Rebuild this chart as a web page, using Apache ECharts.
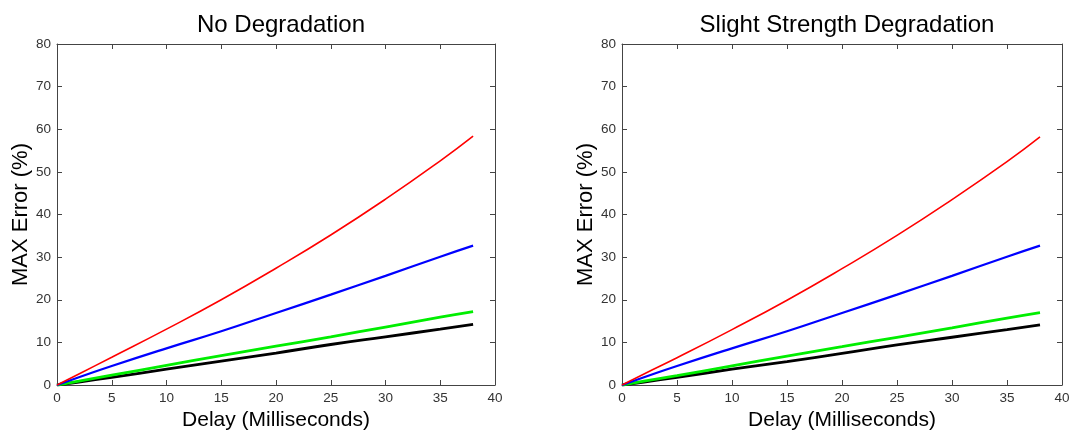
<!DOCTYPE html>
<html><head><meta charset="utf-8">
<script src="https://cdn.jsdelivr.net/npm/echarts@6/dist/echarts.min.js"></script>
<style>html,body{margin:0;padding:0;background:#fff}#c{width:1070px;height:432px}</style>
</head><body><div id="c"></div>
<script>
const titles = ["No Degradation", "Slight Strength Degradation"];
const delays = [0, 2, 5, 10, 15, 20, 25, 30, 35, 38];
const redA   = [0, 2.6, 6.5, 13.1, 20.0, 27.4, 35.2, 43.6, 52.6, 58.4];
const blueA  = [0, 1.8, 4.45, 8.6, 12.6, 16.9, 21.2, 25.6, 30.1, 32.7];
const greenA = [0, 0.9, 2.3, 4.6, 6.9, 9.1, 11.3, 13.6, 15.9, 17.2];
const blackA = [0, 0.7, 1.8, 3.7, 5.6, 7.5, 9.5, 11.3, 13.1, 14.2];
const redB   = [0, 2.6, 6.4, 13.0, 19.9, 27.3, 35.1, 43.5, 52.4, 58.2];
const blueB  = [0, 1.8, 4.45, 8.6, 12.6, 16.9, 21.2, 25.6, 30.1, 32.7];
const greenB = [0, 0.9, 2.2, 4.5, 6.8, 9.0, 11.2, 13.4, 15.7, 17.0];
const blackB = [0, 0.7, 1.8, 3.7, 5.5, 7.4, 9.4, 11.2, 13.0, 14.1];
const xTicks = [0, 5, 10, 15, 20, 25, 30, 35, 40];
const yTicks = [0, 10, 20, 30, 40, 50, 60, 70, 80];

const chart = echarts.init(document.getElementById('c'));
const grids = [
  {left: 57, right: 575, top: 44, bottom: 47, outerBoundsMode: 'none', containLabel: false},
  {left: 622, right: 8, top: 44, bottom: 47, outerBoundsMode: 'none', containLabel: false}
];
const axisCol = '#444';
const font = 'Liberation Sans, Arial, sans-serif';
const xAxes = [], yAxes = [], series = [];
const sets = [[redA, blueA, greenA, blackA], [redB, blueB, greenB, blackB]];
const cols = ['#ff0000', '#0000ff', '#00ee00', '#000000'];
const widths = [1.6, 2.2, 2.8, 2.8];
grids.forEach((g, i) => {
  xAxes.push({gridIndex: i, type: 'value', min: xTicks[0], max: xTicks[xTicks.length-1], interval: 5,
    name: 'Delay (Milliseconds)', nameLocation: 'middle', nameGap: 23,
    nameTextStyle: {fontSize: 21, color: '#000', fontFamily: font},
    axisLine: {show: true, onZero: false, lineStyle: {color: axisCol}},
    axisTick: {inside: true, length: 5, lineStyle: {color: axisCol}},
    axisLabel: {fontSize: 13.5, color: '#333', fontFamily: font, margin: 6},
    splitLine: {show: false}});
  xAxes.push({gridIndex: i, type: 'value', position: 'top', min: 0, max: 40, interval: 5,
    axisLine: {show: true, onZero: false, lineStyle: {color: axisCol}},
    axisTick: {inside: true, length: 5, lineStyle: {color: axisCol}},
    axisLabel: {show: false}, splitLine: {show: false}});
  yAxes.push({gridIndex: i, type: 'value', min: yTicks[0], max: yTicks[yTicks.length-1], interval: 10,
    name: 'MAX Error (%)', nameLocation: 'middle', nameGap: 23, nameRotate: 90,
    nameTextStyle: {fontSize: 22, color: '#000', fontFamily: font},
    axisLine: {show: true, onZero: false, lineStyle: {color: axisCol}},
    axisTick: {inside: true, length: 5, lineStyle: {color: axisCol}},
    axisLabel: {fontSize: 13.5, color: '#333', fontFamily: font, margin: 6},
    splitLine: {show: false}});
  yAxes.push({gridIndex: i, type: 'value', position: 'right', min: 0, max: 80, interval: 10,
    axisLine: {show: true, onZero: false, lineStyle: {color: axisCol}},
    axisTick: {inside: true, length: 5, lineStyle: {color: axisCol}},
    axisLabel: {show: false}, splitLine: {show: false}});
  sets[i].forEach((arr, k) => {
    series.push({type: 'line', xAxisIndex: i*2, yAxisIndex: i*2, showSymbol: false, smooth: true,
      lineStyle: {color: cols[k], width: widths[k]}, z: 10 - k,
      data: delays.map((d, j) => [d, arr[j]])});
  });
});
chart.setOption({
  animation: false,
  title: [
    {text: titles[0], left: 276, top: 8, textAlign: 'center', textStyle: {fontSize: 24, fontWeight: 'normal', color: '#000', fontFamily: font}},
    {text: titles[1], left: 842, top: 8, textAlign: 'center', textStyle: {fontSize: 24, fontWeight: 'normal', color: '#000', fontFamily: font}}
  ],
  grid: grids, xAxis: xAxes, yAxis: yAxes, series: series
});
</script></body></html>
